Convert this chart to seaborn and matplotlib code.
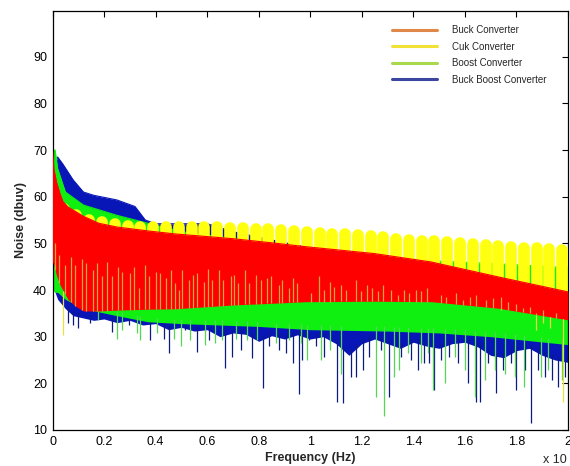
import numpy as np
import matplotlib
matplotlib.use("Agg")
import matplotlib.pyplot as plt
from matplotlib.lines import Line2D
import seaborn as sns

# ---------------------------------------------------------------
# Conducted-noise spectra of four DC-DC converters
# frequency axis in units of 1e7 Hz, level in dBuV
# ---------------------------------------------------------------
series_names = ["Buck Converter", "Cuk Converter", "Boost Converter", "Buck Boost Converter"]
legend_colors = ["#E0884A", "#F2E236", "#A8D84C", "#3A46A0"]

# Buck converter: upper / lower envelope of the spectrum
buck_f = [0.0, 0.005, 0.016, 0.03, 0.04, 0.06, 0.09, 0.12, 0.18, 0.25, 0.38, 0.48,
          0.7, 0.87, 0.98, 1.25, 1.47, 1.73, 2.0]
buck_hi = [70, 66, 63, 60.5, 59, 57.8, 56.8, 55.8, 54.3, 53.5, 52.6, 52.0,
           51.0, 50.0, 49.3, 47.8, 46.0, 42.8, 39.6]
buck_lo = [46, 45.5, 43, 41, 40, 38, 36.5, 35.5, 35.5, 35.7, 35.9, 36.0,
           36.8, 37.2, 37.5, 37.6, 37.5, 36.1, 33.6]

# Boost converter envelope
boost_f = [0.0, 0.01, 0.02, 0.05, 0.12, 0.25, 0.37, 0.5, 0.8, 1.0, 1.3, 1.5, 1.7, 2.0]
boost_hi = [70, 70, 66, 61, 58.2, 56.0, 54.3, 52.5, 50.3, 48.8, 47.0, 46.2, 45.7, 44.8]
boost_lo = [40, 39.5, 39.5, 38, 36, 34.5, 33.2, 32.8, 32.2, 31.5, 31.2, 30.8, 30.0, 28.3]

# Buck-boost converter: upper envelope
bb_f = [0.0, 0.01, 0.02, 0.04, 0.08, 0.12, 0.16, 0.25, 0.32, 0.36, 0.40, 0.6, 0.7,
        1.0, 1.5, 2.0]
bb_hi = [64, 67, 68.5, 67.0, 63.6, 61.0, 60.3, 59.3, 57.9, 55.0, 54.2, 54.2, 52.5,
         49, 45, 43]
# Buck-boost converter: ragged lower envelope
bb_lo_f = [0.0, 0.02, 0.05, 0.08, 0.12, 0.16, 0.2, 0.25, 0.3, 0.35, 0.4, 0.45, 0.5,
           0.55, 0.6, 0.65, 0.7, 0.75, 0.8, 0.85, 0.9, 0.95, 1.0, 1.05, 1.1, 1.15,
           1.2, 1.25, 1.3, 1.35, 1.4, 1.45, 1.5, 1.55, 1.6, 1.65, 1.7, 1.75, 1.8,
           1.85, 1.9, 1.95, 2.0]
bb_lo = [41, 38, 36, 34.5, 34, 33.5, 33.8, 33, 33.5, 32.5, 32.8, 31.5, 32,
         31.2, 31.5, 30, 30.8, 30.5, 29, 30.2, 29.5, 30.4, 29.5, 30, 28.5, 26,
         28.5, 29.5, 28.5, 27.5, 28.8, 28, 27.5, 28.5, 28.8, 27.8, 26, 25.5, 27,
         27.5, 26, 25, 24.5]

# Cuk converter: switching harmonics and their peak levels
cuk_f = [0.044, 0.093, 0.143, 0.192, 0.242, 0.292, 0.341, 0.391, 0.440, 0.490,
         0.540, 0.589, 0.639, 0.688, 0.738, 0.788, 0.837, 0.887, 0.936, 0.986,
         1.036, 1.085, 1.135, 1.184, 1.234, 1.284, 1.333, 1.383, 1.432, 1.482,
         1.532, 1.581, 1.631, 1.680, 1.730, 1.780, 1.829, 1.879, 1.928, 1.978]
cuk_peak = [58.5, 57.3, 56.3, 55.7, 55.3, 55.0, 54.8, 54.6, 54.6, 54.6,
            54.6, 54.6, 54.6, 54.5, 54.4, 54.3, 54.2, 54.0, 53.9, 53.7,
            53.5, 53.3, 53.1, 52.9, 52.7, 52.5, 52.2, 51.9, 51.7, 51.6,
            51.4, 51.2, 51.0, 50.8, 50.7, 50.5, 50.3, 50.1, 49.9, 49.7]

# Cuk converter narrow dips seen inside the buck band (frequency, upper end)
cuk_dip_f = [0.010, 0.027, 0.049, 0.071, 0.088, 0.114, 0.130, 0.156, 0.172, 0.191,
             0.213, 0.230, 0.256, 0.269, 0.302, 0.317, 0.334, 0.360, 0.373, 0.403,
             0.416, 0.442, 0.460, 0.477, 0.490, 0.503, 0.529, 0.544, 0.561, 0.587,
             0.604, 0.619, 0.645, 0.661, 0.691, 0.704, 0.720, 0.746, 0.762, 0.788,
             0.807, 0.833, 0.849, 0.879, 0.892, 0.918, 0.933, 0.950, 1.002, 1.034,
             1.054, 1.077, 1.093, 1.121, 1.138, 1.177, 1.196, 1.220, 1.238, 1.264,
             1.281, 1.313, 1.339, 1.365, 1.384, 1.410, 1.430, 1.453, 1.508, 1.527,
             1.566, 1.592, 1.618, 1.644, 1.683, 1.709, 1.741, 1.767, 1.800, 1.826,
             1.852, 1.877, 1.903, 1.929, 1.955, 1.981]
cuk_dip_top = [50.0, 47.5, 45.4, 47.1, 45.4, 46.6, 45.7, 44.3, 45.7, 42.9,
               46.1, 42.9, 45.0, 43.9, 43.6, 45.0, 40.4, 45.4, 42.9, 43.9,
               43.6, 42.5, 44.3, 41.4, 40.0, 44.3, 42.1, 43.2, 43.6, 41.8,
               44.4, 42.1, 44.2, 42.1, 42.9, 43.2, 41.4, 44.2, 41.4, 43.2,
               42.1, 42.5, 42.9, 41.1, 42.1, 40.4, 42.5, 41.4, 39.3, 42.9,
               40.0, 41.8, 40.7, 41.1, 40.0, 42.1, 39.7, 41.1, 40.4, 39.7,
               41.1, 40.0, 38.9, 40.0, 39.3, 40.0, 39.7, 40.4, 38.9, 38.6,
               39.3, 37.9, 38.6, 38.9, 37.9, 38.2, 38.6, 37.5, 37.1, 36.1,
               36.4, 35.0, 35.7, 33.9, 35.0, 33.6]
# Cuk dips that reach below the buck band
cuk_deep_f = [0.042, 1.741, 1.877, 1.903, 1.929, 1.981]
cuk_deep_lo = [30.4, 35.7, 31.4, 32.9, 31.8, 16.1]

# Buck-boost deep dips (frequency, minimum level)
bb_dip_f = [0.062, 0.081, 0.100, 0.146, 0.230, 0.295, 0.379, 0.431, 0.451, 0.516,
            0.561, 0.606, 0.671, 0.697, 0.730, 0.775, 0.817, 0.840, 0.879, 0.905,
            0.933, 0.957, 0.969, 0.995, 1.021, 1.054, 1.103, 1.129, 1.158, 1.177,
            1.203, 1.229, 1.274, 1.307, 1.352, 1.391, 1.417, 1.443, 1.462, 1.482,
            1.508, 1.540, 1.573, 1.612, 1.644, 1.657, 1.690, 1.722, 1.748, 1.780,
            1.800, 1.832, 1.858, 1.884, 1.910, 1.936, 1.962, 1.988]
bb_dip_lo = [32.9, 32.5, 31.8, 32.9, 31.1, 32.5, 29.3, 29.6, 26.4, 31.4,
             26.8, 29.3, 23.2, 25.7, 27.1, 25.4, 18.9, 27.9, 27.1, 26.4,
             24.3, 17.7, 25.0, 29.3, 27.9, 25.7, 16.1, 15.7, 21.4, 21.4,
             22.9, 25.7, 27.1, 17.1, 25.7, 25.0, 22.9, 24.3, 24.3, 18.6,
             25.0, 25.7, 24.3, 20.0, 16.1, 16.1, 24.3, 17.9, 22.9, 24.3,
             18.6, 22.9, 11.4, 22.9, 21.4, 20.7, 19.3, 21.4]

# Boost deep dips
boost_dip_f = [0.178, 0.250, 0.269, 0.328, 0.340, 0.405, 0.470, 0.500, 0.535, 0.593,
               0.632, 0.658, 0.710, 0.756, 0.794, 0.866, 0.918, 0.963, 0.989, 1.041,
               1.077, 1.119, 1.255, 1.287, 1.326, 1.345, 1.378, 1.430, 1.456, 1.475,
               1.521, 1.560, 1.599, 1.638, 1.677, 1.715, 1.754, 1.793, 1.828, 1.897,
               1.923, 1.975]
boost_dip_lo = [33.6, 29.6, 31.4, 30.7, 29.3, 30.7, 29.6, 27.9, 29.3, 28.2,
                28.6, 29.3, 29.6, 29.3, 29.3, 28.6, 29.3, 28.6, 25.0, 25.0,
                27.1, 22.1, 17.1, 12.9, 21.4, 22.9, 26.4, 24.3, 26.4, 18.6,
                20.0, 25.7, 22.9, 17.1, 20.7, 22.9, 22.1, 21.4, 19.3, 21.4,
                22.9, 20.7]

x_ticks = [0, 0.2, 0.4, 0.6, 0.8, 1.0, 1.2, 1.4, 1.6, 1.8, 2.0]
x_ticklabels = ["0", "0.2", "0.4", "0.6", "0.8", "1", "1.2", "1.4", "1.6", "1.8", "2"]
y_ticks = [10, 20, 30, 40, 50, 60, 70, 80, 90]

# ---------------------------------------------------------------
sns.set_theme(style="white")
plt.rcParams["font.family"] = ["Liberation Sans", "DejaVu Sans"]

W, H = 570, 466
fig = plt.figure(figsize=(W / 100, H / 100), dpi=100)
ax = fig.add_axes([52.5 / W, 36 / H, 515.5 / W, 419 / H])

RED, YEL, GRN, BLU = "#FF0000", "#FFFF10", "#10F010", "#0816B8"

# Buck-boost body and dips (upper and lower envelopes on a shared grid)
grid = np.union1d(bb_f, bb_lo_f)
ax.fill_between(grid, np.interp(grid, bb_lo_f, bb_lo), np.interp(grid, bb_f, bb_hi),
                color=BLU, lw=0, zorder=1)
sns.lineplot(x=bb_f, y=bb_hi, color=BLU, lw=0.8, ax=ax, zorder=1)
ax.vlines(bb_dip_f, bb_dip_lo, np.interp(bb_dip_f, bb_lo_f, bb_lo) + 1.0,
          color="#0A1A80", lw=0.9, zorder=1.5)

# Boost body and dips
ax.fill_between(boost_f, boost_lo, boost_hi, color=GRN, lw=0, zorder=2)
sns.lineplot(x=boost_f, y=boost_hi, color=GRN, lw=0.8, ax=ax, zorder=2)
ax.vlines(boost_dip_f, boost_dip_lo, np.interp(boost_dip_f, boost_f, boost_lo) + 1.0,
          color="#52D852", lw=0.9, zorder=2.5)

# Cuk harmonics: rounded columns standing inside the buck band
cap = 1.2  # half column width expressed in dB
col_base = np.interp(cuk_f, buck_f, buck_hi) - 3.0
cols = ax.vlines(cuk_f, col_base, np.array(cuk_peak) - cap, color=YEL, lw=8.4,
                 zorder=3)
cols.set_capstyle("round")

# Buck body
ax.fill_between(buck_f, buck_lo, buck_hi, color=RED, lw=0, zorder=4)
sns.lineplot(x=buck_f, y=buck_hi, color=RED, lw=0.8, ax=ax, zorder=4)

# Cuk dips over the buck band
ax.vlines(cuk_dip_f, np.interp(cuk_dip_f, buck_f, buck_lo), cuk_dip_top,
          color="#D9A347", lw=0.9, zorder=5)
ax.vlines(cuk_deep_f, cuk_deep_lo, np.interp(cuk_deep_f, buck_f, buck_lo),
          color="#E8E040", lw=0.9, zorder=5)

# axes styling
ax.set_xlim(0, 2)
ax.set_ylim(10, 99.8)
ax.set_xticks(x_ticks)
ax.set_xticklabels(x_ticklabels)
ax.set_yticks(y_ticks)
ax.tick_params(axis="both", which="both", direction="in", length=4, width=0.8,
               top=True, right=True, labelsize=9, colors="black", pad=4)
for s in ax.spines.values():
    s.set_visible(True)
    s.set_color("black")
    s.set_linewidth(0.9)
ax.set_xlabel("Frequency (Hz)", fontsize=9, fontweight="bold", labelpad=3)
ax.set_ylabel("Noise (dbuv)", fontsize=9, fontweight="bold", labelpad=4)
ax.grid(False)
ax.set_facecolor("white")

fig.text(567 / W, 1 - 460 / H, "x 10", fontsize=9, ha="right", va="center")

handles = [Line2D([0], [0], color=c, lw=2.2) for c in legend_colors]
fig.legend(handles, series_names, loc="upper left",
           bbox_to_anchor=(392 / W, 1 - 25 / H), frameon=False, fontsize=7,
           handlelength=4.6, handletextpad=1.6, labelspacing=0.68,
           borderpad=0, borderaxespad=0)

fig.savefig("out.png", dpi=100)
